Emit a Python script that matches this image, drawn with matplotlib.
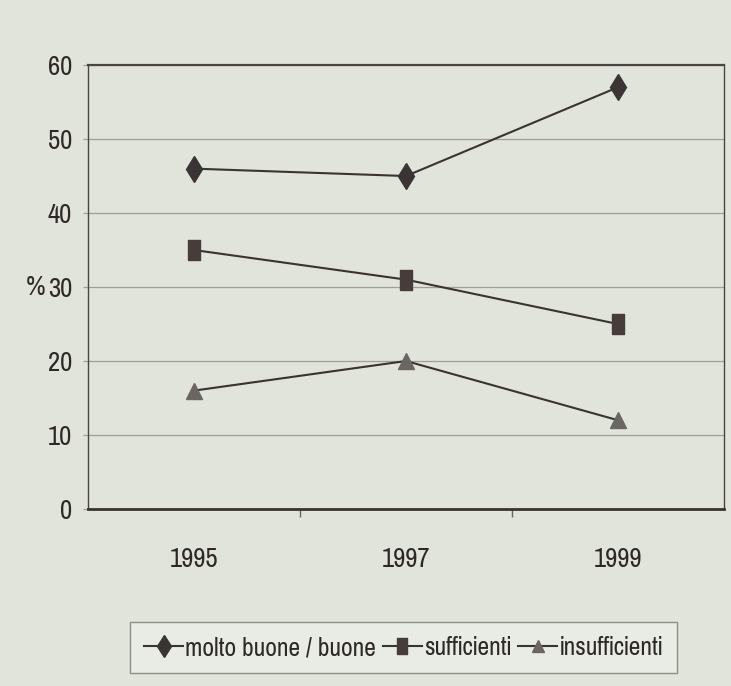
import matplotlib.pyplot as plt
from matplotlib import font_manager

# Condensed sans close to the printed Helvetica Condensed
names = {f.name for f in font_manager.fontManager.ttflist}
fam = next((f for f in ['Pragati Narrow', 'Archivo Narrow', 'Liberation Sans'] if f in names), 'DejaVu Sans')
plt.rcParams['font.family'] = [fam, 'DejaVu Sans']

# Data
years = ['1995', '1997', '1999']
molto_buone = [46, 45, 57]
sufficienti = [35, 31, 25]
insufficienti = [16, 20, 12]
y_ticks = [0, 10, 20, 30, 40, 50, 60]

bg = '#e1e4db'
ink = '#3a3331'
txt = '#2e2927'

fig = plt.figure(figsize=(7.31, 6.86), dpi=100, facecolor=bg)
ax = fig.add_axes([0.1204, 0.258, 0.870, 0.6472])
ax.set_facecolor(bg)

x = list(range(len(years)))
rect = [(-0.3, -0.5), (0.3, -0.5), (0.3, 0.5), (-0.3, 0.5), (-0.3, -0.5)]
ax.plot(x, molto_buone, color=ink, lw=1.5, marker='d', ms=13, mfc='#3b3434', mec='#3b3434',
        label='molto buone / buone')
ax.plot(x, sufficienti, color=ink, lw=1.5, marker=rect, ms=14, mfc='#463d3b', mec='#463d3b',
        label='sufficienti')
ax.plot(x, insufficienti, color=ink, lw=1.5, marker='^', ms=11, mfc='#6b6661', mec='#6b6661',
        label='insufficienti')

ax.set_xlim(-0.5, 2.5)
ax.set_ylim(0, 60)
ax.set_yticks(y_ticks)
ax.yaxis.grid(True, color='#9d9f98', lw=0.9)
ax.set_axisbelow(True)

ax.set_xticks(x)
ax.set_xticklabels(years)
ax.set_xticks([0.5, 1.5], minor=True)
ax.tick_params(axis='x', which='major', length=0, pad=27, labelsize=21, colors=txt)
ax.tick_params(axis='x', which='minor', length=6, width=1, color='#6a6560', direction='out')
ax.tick_params(axis='y', length=3.6, width=0.9, color='#9d9f98', pad=8, labelsize=21,
               labelcolor=txt)

for side in ['left', 'right']:
    ax.spines[side].set_color('#4a4442')
    ax.spines[side].set_linewidth(1.0)
ax.spines['top'].set_color('#4a4442')
ax.spines['top'].set_linewidth(1.6)
ax.spines['bottom'].set_color(ink)
ax.spines['bottom'].set_linewidth(2.0)

ax.text(-0.068, 30, '%', transform=ax.get_yaxis_transform(), ha='right', va='center',
        fontsize=21, color=txt)

leg = fig.legend(loc='center', bbox_to_anchor=(0.552, 0.056), ncol=3, fontsize=20,
                 frameon=True, fancybox=False, handlelength=1.4, handletextpad=0.08,
                 columnspacing=0.25, borderpad=0.5, borderaxespad=0, markerscale=0.85)
leg.get_frame().set_facecolor('#eceee8')
leg.get_frame().set_edgecolor('#7a7672')
leg.get_frame().set_linewidth(1.0)
for t in leg.get_texts():
    t.set_color(txt)

fig.savefig('out.png', dpi=100, facecolor=bg)
